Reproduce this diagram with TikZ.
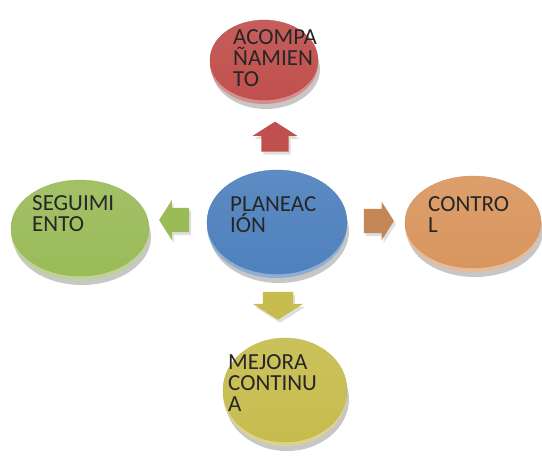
\documentclass[tikz,border=0pt]{standalone}
\usepackage{fontspec}
\setmainfont{Carlito}
\usetikzlibrary{shapes.geometric,shapes.arrows,shadows}
\definecolor{redc}{RGB}{192,80,77}
\definecolor{bluec}{RGB}{79,129,189}
\definecolor{orangec}{RGB}{217,150,95}
\definecolor{greenc}{RGB}{155,187,89}
\definecolor{olivec}{RGB}{199,188,78}
\tikzset{
	disc/.style={ellipse, inner sep=0pt, top color=#1!92!white, bottom color=#1,
		draw=#1!95!black, line width=0.3pt,
		drop shadow={shadow xshift=2pt, shadow yshift=-9pt, fill=black, opacity=.22},
		general shadow={shadow yshift=-4pt, fill=#1!65!white}},
	blockarrow/.style={single arrow, fill=#1, single arrow tip angle=115,
		drop shadow={shadow xshift=2pt, shadow yshift=-3pt, opacity=.25}},
	lbl/.style={anchor=base west, align=left, inner sep=0pt,
		font=\fontsize{23}{21}\selectfont, text=black!85}
}
\begin{document}
\begin{tikzpicture}[x=1pt,y=-1pt]
		\useasboundingbox (0,0) rectangle (542,460);
		% discs
		\node[disc=redc, minimum width=108pt, minimum height=80pt] (acomp) at (264,60) {};
		\node[disc=greenc, minimum width=138pt, minimum height=96pt] (segui) at (80,228) {};
		\node[disc=orangec, minimum width=136pt, minimum height=92pt] (contr) at (473,222) {};
		\node[disc=olivec, minimum width=124pt, minimum height=104pt] (mejor) at (285,390) {};
		\node[disc=bluec, minimum width=140pt, minimum height=104pt] (plan) at (277,222) {};
		% arrows (shaft from inner sep across, head from head extend)
		\node[blockarrow=redc, shape border rotate=90, inner xsep=13.5pt, inner ysep=0pt,
			single arrow head extend=8.5pt, minimum height=30pt] (arrU) at (275,141) {};
		\node[blockarrow=greenc, shape border rotate=180, inner xsep=0pt, inner ysep=12pt,
			single arrow head extend=8pt, minimum height=30pt] (arrL) at (178,220) {};
		\node[blockarrow=orangec!90!black, shape border rotate=0, inner xsep=0pt, inner ysep=12pt,
			single arrow head extend=7pt, minimum height=30pt] (arrR) at (375,221) {};
		\node[blockarrow=olivec, shape border rotate=270, inner xsep=15pt, inner ysep=0pt,
			single arrow head extend=10pt, minimum height=28pt] (arrD) at (278,301) {};
		% labels
		\node[lbl] (tacomp) at (233,87) {ACOMPA\\ÑAMIEN\\TO};
		\node[lbl] (tplan) at (230,233) {PLANEAC\\IÓN};
		\node[lbl] (tsegui) at (32,232) {SEGUIMI\\ENTO};
		\node[lbl] (tcontr) at (428,233) {CONTRO\\L};
		\node[lbl] (tmejor) at (228,411) {MEJORA\\CONTINU\\A};
	\end{tikzpicture}
\end{document}
